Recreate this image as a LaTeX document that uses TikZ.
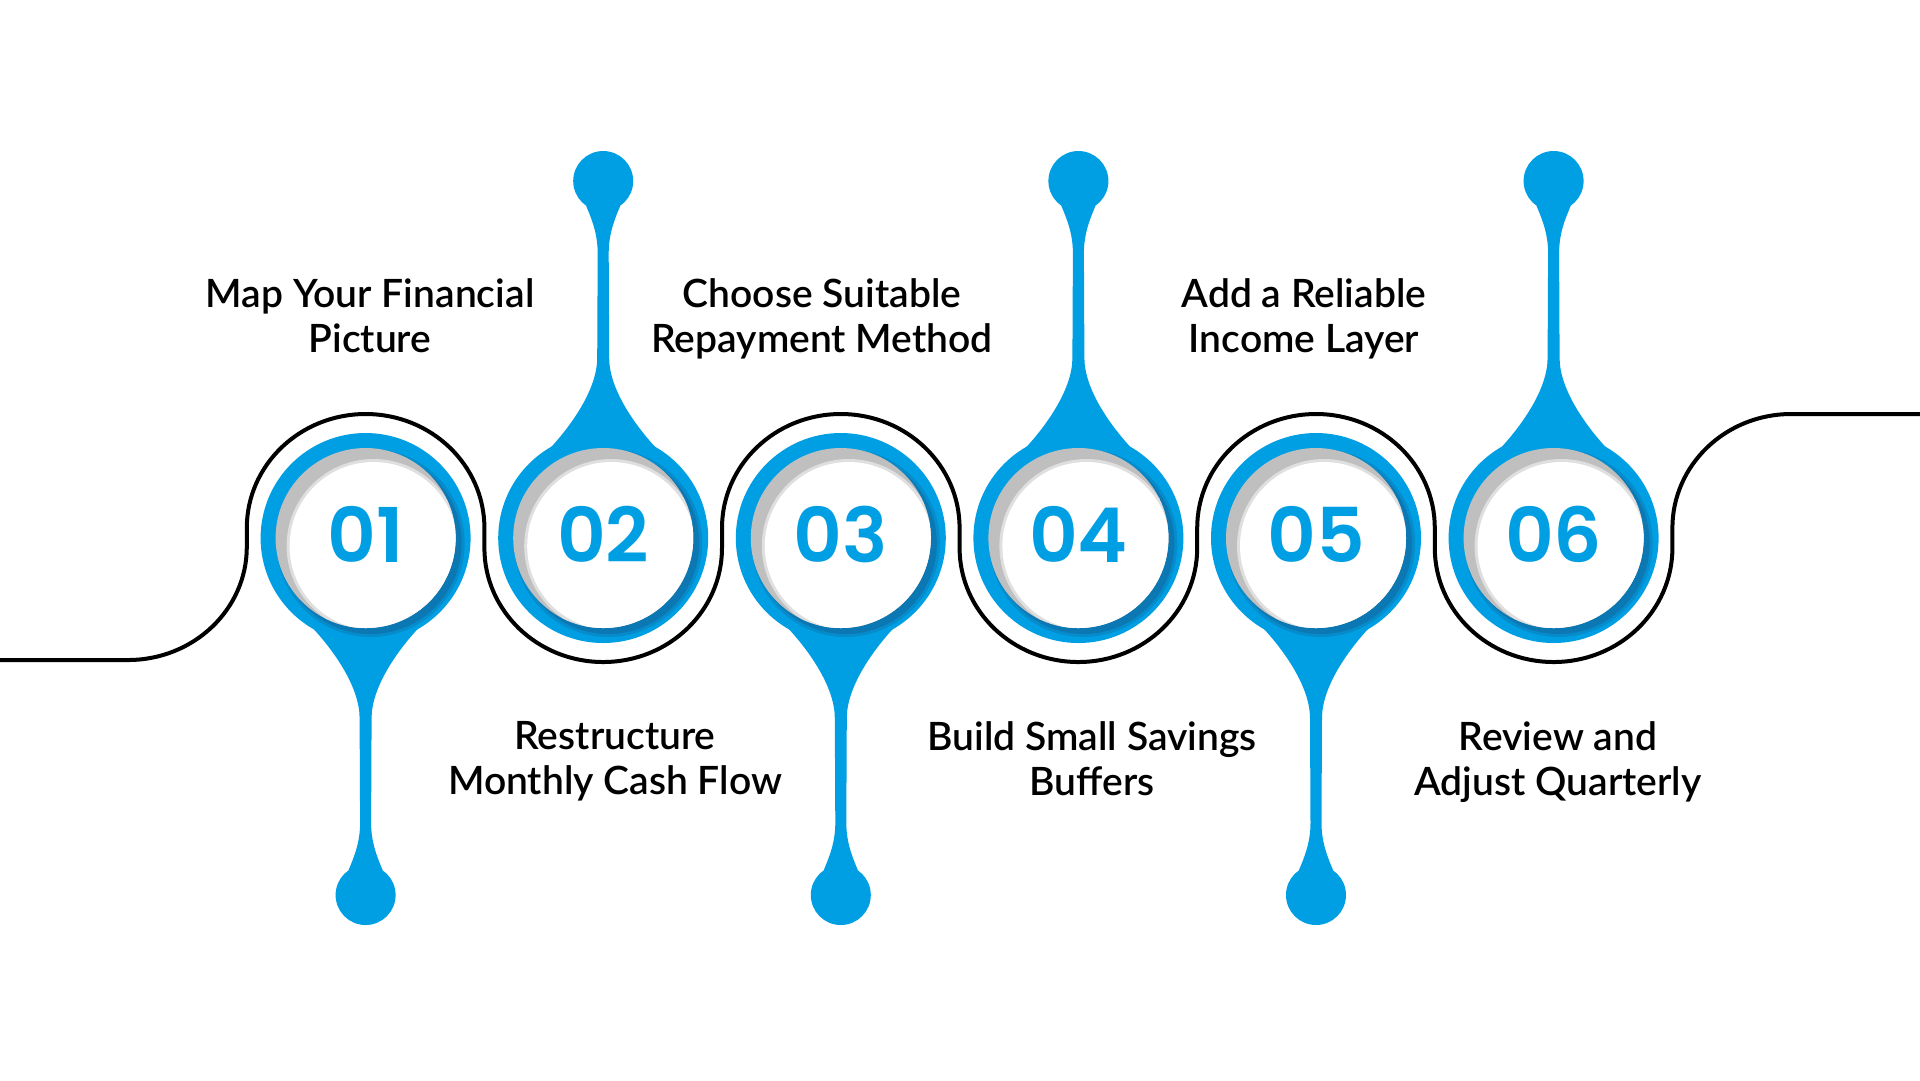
\documentclass[tikz,border=0pt]{standalone}
\usepackage{fontspec}
\IfFontExistsTF{Lato Semibold}{\newfontfamily\labelfont{Lato Semibold}}{\newfontfamily\labelfont{Lato}[FakeBold=1.2]}
\IfFontExistsTF{Poppins SemiBold}{\newfontfamily\numfont{Poppins SemiBold}\newcommand\numstyle{\numfont}}{\newfontfamily\numfont{Poppins}\newcommand\numstyle{\numfont\bfseries}}

\definecolor{PinBlue}{HTML}{009FE3}
\definecolor{PinShade}{HTML}{0B78B4}
\definecolor{InsetGray}{HTML}{BFBFBF}

\tikzset{
	pin/.style={fill=PinBlue},
	snake/.style={draw=black, line width=0.4mm},
	stepnum/.style={font={\numstyle\fontsize{21.5}{24}\selectfont}, text=PinBlue, anchor=base, inner sep=0pt},
	steplabel/.style={font={\labelfont\fontsize{11.1}{12.7}\selectfont}, align=center, anchor=north, inner sep=0pt}
}

\begin{document}
\begin{tikzpicture}[x=0.1mm, y=-0.1mm]
			\useasboundingbox (0,0) rectangle (1920,1080);
			\fill[white] (0,0) rectangle (1920,1080);
			
			\draw[snake] (0,660) -- (128,660) arc[start angle=90, end angle=0, x radius=118.8, y radius=113] -- ++(0,-19)
				arc[start angle=180, end angle=360, x radius=118.8, y radius=114] -- ++(0,20)
				arc[start angle=180, end angle=0, x radius=118.8, y radius=114] -- ++(0,-20)
				arc[start angle=180, end angle=360, x radius=118.8, y radius=114] -- ++(0,20)
				arc[start angle=180, end angle=0, x radius=118.8, y radius=114] -- ++(0,-20)
				arc[start angle=180, end angle=360, x radius=118.8, y radius=114] -- ++(0,20)
				arc[start angle=180, end angle=0, x radius=118.8, y radius=114] -- ++(0,-20)
				arc[start angle=180, end angle=270, x radius=118.8, y radius=114] -- (1920,414);
			
			\foreach \cx/\s/\num [count=\i] in {365.6/1/01, 603.2/-1/02, 840.8/1/03, 1078.4/-1/04, 1316/1/05, 1553.6/-1/06} {
				\fill[pin] ({\cx-52},{538+\s*91}) .. controls ({\cx-30},{538+\s*115}) and ({\cx-6},{538+\s*150}) .. ({\cx-6},{538+\s*180})
					-- ({\cx-5.5},{538+\s*285}) .. controls ({\cx-5.5},{538+\s*305}) and ({\cx-12},{538+\s*320}) .. ({\cx-17},{538+\s*332})
					-- ({\cx+17},{538+\s*332}) .. controls ({\cx+12},{538+\s*320}) and ({\cx+5.5},{538+\s*305}) .. ({\cx+5.5},{538+\s*285})
					-- ({\cx+6},{538+\s*180}) .. controls ({\cx+6},{538+\s*150}) and ({\cx+30},{538+\s*115}) .. ({\cx+52},{538+\s*91}) -- cycle;
				\fill[pin] (\cx,{538+\s*357}) circle[radius=30];
				\fill[pin] (\cx,538) circle[radius=105];
				\fill[PinShade!50!PinBlue] ({\cx+5},543) circle[radius=94];
				\fill[PinShade] ({\cx+5},543) circle[radius=91];
				\fill[InsetGray] (\cx,538) circle[radius=90];
				\begin{scope}
					\clip (\cx,538) circle[radius=90];
					\fill[InsetGray!50!white] ({\cx+8},546) circle[radius=87];
					\fill[white] ({\cx+8},546) circle[radius=84];
				\end{scope}
				\node[stepnum] (n\i) at (\cx,562) {\num};
			}
			
			\node[steplabel] (l1) at (370,278) {Map Your Financial\\Picture};
			\node[steplabel] (l2) at (615,721) {Restructure\\Monthly Cash Flow};
			\node[steplabel] (l3) at (822,278) {Choose Suitable\\Repayment Method};
			\node[steplabel] (l4) at (1092,721) {Build Small Savings\\Buffers};
			\node[steplabel] (l5) at (1304,278) {Add a Reliable\\Income Layer};
			\node[steplabel] (l6) at (1558,721) {Review and\\Adjust Quarterly};
		\end{tikzpicture}
\end{document}
